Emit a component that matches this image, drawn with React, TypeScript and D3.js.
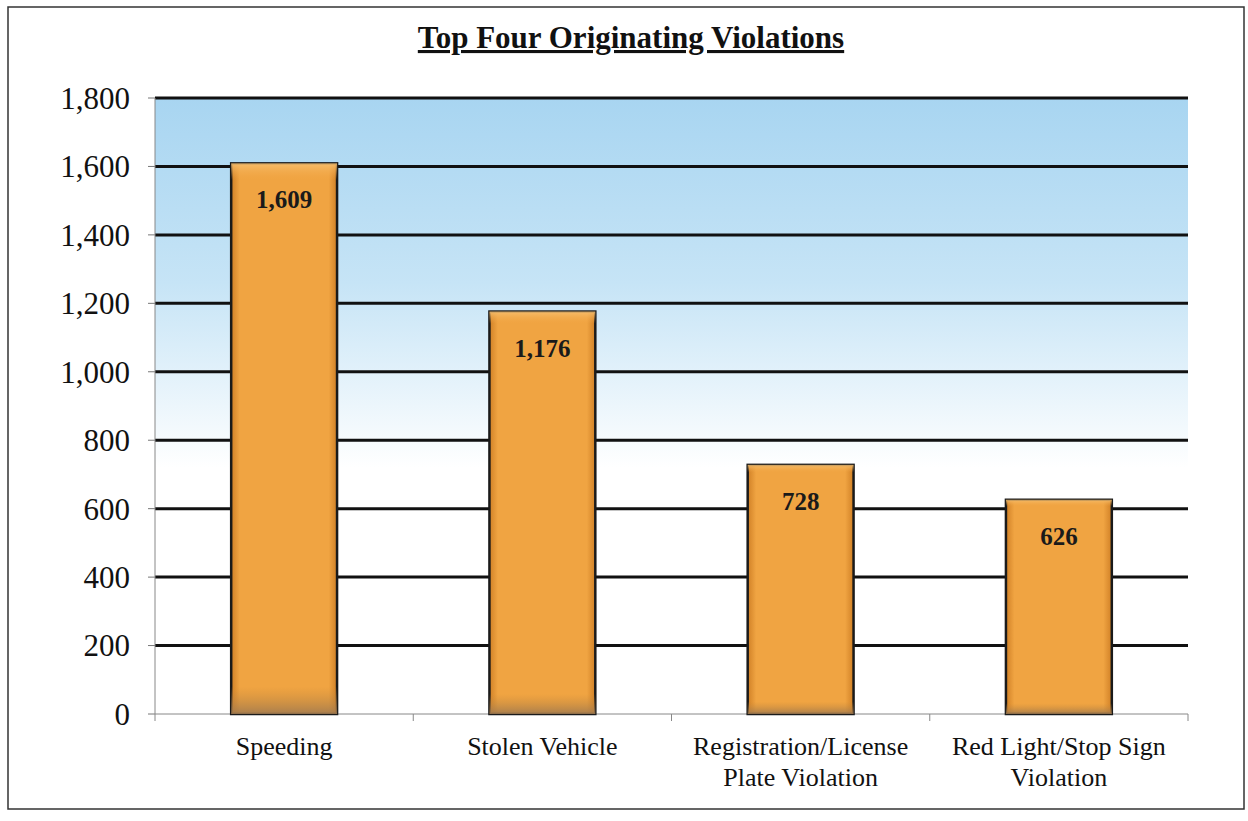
import React from "react";
import * as d3 from "d3";

const categories: string[][] = [
  ["Speeding"],
  ["Stolen Vehicle"],
  ["Registration/License", "Plate Violation"],
  ["Red Light/Stop Sign", "Violation"],
];
const values: number[] = [1609, 1176, 728, 626];
const yTicks: number[] = [0, 200, 400, 600, 800, 1000, 1200, 1400, 1600, 1800];
const title = "Top Four Originating Violations";

export default function App() {
  const W = 1248, H = 821;
  const left = 155, right = 1188, top = 98, bottom = 714;
  const x = d3.scaleBand<number>().domain(d3.range(categories.length)).range([left, right]).paddingInner(0.59).paddingOuter(0.295);
  const y = d3.scaleLinear().domain([0, 1800]).range([bottom, top]);
  const fmt = d3.format(",");
  const serif = "'Liberation Serif', 'Times New Roman', serif";
  const band = (right - left) / categories.length;
  return (
    <svg width={W} height={H} style={{ position: "absolute", left: 0, top: 0 }}>
      <defs>
        <linearGradient id="bg" x1="0" y1="0" x2="0" y2="1">
          <stop offset="0" stopColor="#a8d5f1" />
          <stop offset="0.3" stopColor="#c6e4f6" />
          <stop offset="0.6" stopColor="#ffffff" />
          <stop offset="1" stopColor="#ffffff" />
        </linearGradient>
        <linearGradient id="barH" x1="0" y1="0" x2="1" y2="0">
          <stop offset="0" stopColor="#d08026" />
          <stop offset="0.08" stopColor="#f0a442" />
          <stop offset="0.92" stopColor="#f0a442" />
          <stop offset="1" stopColor="#d08026" />
        </linearGradient>
        <linearGradient id="barV" x1="0" y1="0" x2="0" y2="1">
          <stop offset="0" stopColor="#f7c070" stopOpacity="0.9" />
          <stop offset="0.03" stopColor="#f3a745" stopOpacity="0" />
          <stop offset="0.95" stopColor="#c98a3a" stopOpacity="0" />
          <stop offset="1" stopColor="#a07a50" stopOpacity="0.9" />
        </linearGradient>
      </defs>
      <rect x={0} y={0} width={W} height={H} fill="#fff" />
      <rect x={8} y={7} width={1236} height={802} fill="none" stroke="#333" strokeWidth={1.5} />
      <text x={631} y={48} textAnchor="middle" fontFamily={serif} fontWeight="bold" fontSize={31} textDecoration="underline" fill="#111">{title}</text>
      <rect x={left} y={top} width={right - left} height={bottom - top} fill="url(#bg)" />
      {yTicks.map((t) => (
        <g key={t}>
          {t > 0 && <line x1={left} x2={right} y1={y(t)} y2={y(t)} stroke="#111" strokeWidth={3} />}
          <line x1={left - 7} x2={left} y1={y(t)} y2={y(t)} stroke="#777" strokeWidth={1} />
          <text x={130} y={y(t)} dy="0.35em" textAnchor="end" fontFamily={serif} fontSize={31} fill="#111">{fmt(t)}</text>
        </g>
      ))}
      <line x1={left} x2={left} y1={top} y2={bottom} stroke="#888" strokeWidth={1} />
      <line x1={left} x2={right} y1={bottom} y2={bottom} stroke="#888" strokeWidth={1} />
      {d3.range(categories.length + 1).map((i) => (
        <line key={i} x1={left + i * band} x2={left + i * band} y1={bottom} y2={bottom + 7} stroke="#888" strokeWidth={1} />
      ))}
      {values.map((v, i) => {
        const bx = x(i)!;
        const bw = x.bandwidth();
        return (
          <g key={i}>
            <rect x={bx} y={y(v)} width={bw} height={bottom - y(v)} fill="url(#barH)" stroke="#1a1a1a" strokeWidth={2.5} />
            <rect x={bx} y={y(v)} width={bw} height={bottom - y(v)} fill="url(#barV)" />
            <text x={bx + bw / 2} y={y(v) + 45} textAnchor="middle" fontFamily={serif} fontWeight="bold" fontSize={25} fill="#1a1a1a">{fmt(v)}</text>
          </g>
        );
      })}
      {categories.map((lines, i) => (
        <text key={i} x={x(i)! + x.bandwidth() / 2} y={755} textAnchor="middle" fontFamily={serif} fontSize={26} fill="#111">
          {lines.map((l, j) => (
            <tspan key={j} x={x(i)! + x.bandwidth() / 2} dy={j === 0 ? 0 : 31}>{l}</tspan>
          ))}
        </text>
      ))}
    </svg>
  );
}
